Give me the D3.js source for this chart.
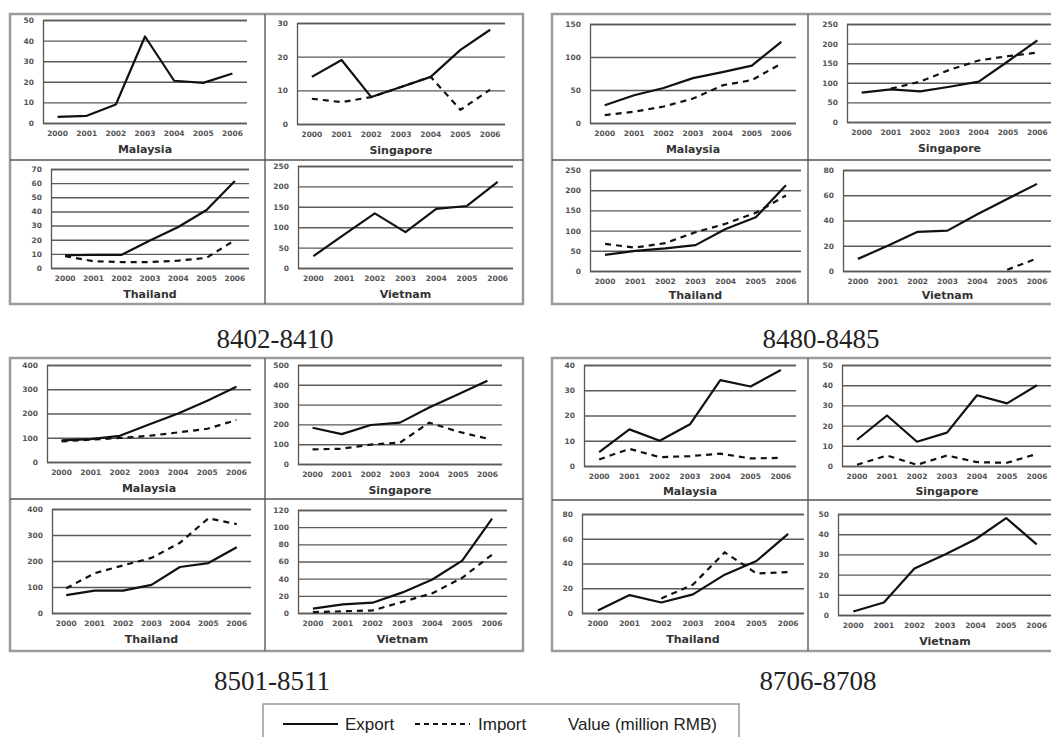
<!DOCTYPE html>
<html>
<head>
<meta charset="utf-8">
<script src="https://cdn.jsdelivr.net/npm/d3@7"></script>
<style>
  html, body { margin: 0; padding: 0; background: #fff; }
  svg { display: block; }
</style>
</head>
<body>
<script>
// ---------------- DATA ----------------
const years = ["2000", "2001", "2002", "2003", "2004", "2005", "2006"];
const countries = ["Malaysia", "Singapore", "Thailand", "Vietnam"];
const groupCodes = ["8402-8410", "8480-8485", "8501-8511", "8706-8708"];

// y-axis tick values per panel (Malaysia, Singapore, Thailand, Vietnam)
const ticks8402 = [[0,10,20,30,40,50], [0,10,20,30], [0,10,20,30,40,50,60,70], [0,50,100,150,200,250]];
const ticks8480 = [[0,50,100,150], [0,50,100,150,200,250], [0,50,100,150,200,250], [0,20,40,60,80]];
const ticks8501 = [[0,100,200,300,400], [0,100,200,300,400,500], [0,100,200,300,400], [0,20,40,60,80,100,120]];
const ticks8706 = [[0,10,20,30,40], [0,10,20,30,40,50], [0,20,40,60,80], [0,10,20,30,40,50]];

// Export values (million RMB), 2000-2006
const export8402 = [
  [3, 3.5, 9, 42, 20.5, 19.5, 24],
  [14, 19, 8, 11, 14, 22, 28],
  [9, 9.3, 9.3, 19.5, 29, 41, 61.5],
  [29, 82, 134, 88, 145, 152, 211]
];
const export8480 = [
  [27, 42, 53, 68, 77, 87, 123],
  [75, 83, 78, 90, 103, 155, 208],
  [40, 50, 56, 64, 104, 133, 212],
  [9.6, 20, 31, 32, 45, 57, 69]
];
const export8501 = [
  [89, 94, 108, 155, 200, 253, 310],
  [183, 151, 197, 209, 285, 352, 420],
  [69, 86, 86, 108, 177, 192, 253],
  [5, 10, 12, 24, 39, 61, 110]
];
const export8706 = [
  [5.5, 14.5, 10, 16.5, 34, 31.5, 38],
  [13, 25, 12, 16.5, 35, 31, 40],
  [2, 14.5, 8.5, 15, 31, 42, 64],
  [1.7, 6.2, 23, 30, 37.5, 48, 35]
];

// Import values (million RMB), 2000-2006 (null = not shown)
const import8402 = [
  null,
  [7.5, 6.5, 8, 11, 14, 4.2, 10.2],
  [8.4, 4.8, 4.2, 4.2, 5.2, 7.2, 19.7],
  null
];
const import8480 = [
  [12, 17, 25, 37, 57, 65, 90],
  [null, 85, 103, 133, 157, 168, 177],
  [67, 58, 69, 96, 117, 144, 187],
  [null, null, null, null, null, 1, 10]
];
const import8501 = [
  [85, 92, 99, 108, 122, 137, 173],
  [74, 77, 98, 108, 209, 163, 128],
  [95, 153, 183, 212, 270, 364, 342],
  [1, 2, 3, 13, 23, 41, 68]
];
const import8706 = [
  [2.6, 6.8, 3.5, 3.9, 4.9, 3.0, 3.2],
  [0.6, 5.2, 0.6, 5.2, 1.9, 1.6, 6],
  [null, null, 11.7, 23, 49, 32, 33],
  null
];

const allTicks = [ticks8402, ticks8480, ticks8501, ticks8706];
const allExport = [export8402, export8480, export8501, export8706];
const allImport = [import8402, import8480, import8501, import8706];

const legendLabels = ["Export", "Import", "Value (million RMB)"];

// ---------------- LAYOUT ----------------
// group frames: [x, y, w, h, colDividerX, rowDividerY]
const frames = [
  [10, 14, 513, 290, 265, 160],
  [552, 14, 520, 290, 808, 160],
  [10, 358, 513, 293, 265, 499],
  [552, 358, 520, 293, 808, 500]
];
// plot boxes [x0, x1, yTop, yBottom] per group, per country
const plots = [
  [[43, 247, 20, 123], [297, 505, 23, 124], [51, 249, 169, 268], [298, 513, 166, 268]],
  [[590, 796, 24, 123], [847, 1052, 24, 122], [590, 801, 170, 271], [843, 1052, 170, 271]],
  [[47, 251, 365, 462], [298, 502, 365, 464], [52, 251, 509, 613], [298, 507, 510, 613]],
  [[584, 796, 365, 466], [842, 1052, 365, 466], [582, 804, 514, 613], [838, 1052, 514, 615]]
];
const codePos = [[275, 348], [821, 348], [272, 690], [818, 690]];

// ---------------- DRAW ----------------
const svg = d3.select("body").append("svg")
  .attr("width", 1051).attr("height", 737)
  .style("background", "#fff");

frames.forEach(f => {
  const g = svg.append("g");
  g.append("rect").attr("x", f[0]).attr("y", f[1]).attr("width", f[2]).attr("height", f[3])
    .attr("fill", "#fff").attr("stroke", "#9a9a9a").attr("stroke-width", 2.5);
  g.append("line").attr("x1", f[4]).attr("x2", f[4]).attr("y1", f[1]).attr("y2", f[1] + f[3])
    .attr("stroke", "#666").attr("stroke-width", 1.5);
  g.append("line").attr("x1", f[0]).attr("x2", f[0] + f[2]).attr("y1", f[5]).attr("y2", f[5])
    .attr("stroke", "#555").attr("stroke-width", 1.5);
});

const tickFont = "'DejaVu Sans', sans-serif";

allTicks.forEach((groupTicks, gi) => {
  const f = frames[gi];
  groupTicks.forEach((ticks, pi) => {
    const L = plots[gi][pi];
    const x = d3.scaleBand().domain(years).range([L[0], L[1]]);
    const y = d3.scaleLinear().domain([0, d3.max(ticks)]).range([L[3], L[2]]);
    const g = svg.append("g");

    // y axis with gridlines
    const ya = g.append("g").attr("transform", `translate(${L[0]},0)`)
      .call(d3.axisLeft(y).tickValues(ticks).tickSize(-(L[1] - L[0])).tickPadding(9));
    ya.select(".domain").attr("stroke", "#555").attr("stroke-width", 1.3);
    ya.selectAll(".tick line").attr("stroke", "#5a5a5a").attr("stroke-width", 1.4);
    ya.selectAll(".tick text").attr("font-family", tickFont).attr("font-size", 7.5)
      .attr("font-weight", "bold").attr("fill", "#555");

    // x axis labels
    const xa = g.append("g").attr("transform", `translate(0,${L[3]})`)
      .call(d3.axisBottom(x).tickSize(0).tickPadding(8));
    xa.select(".domain").remove();
    xa.selectAll(".tick text").attr("font-family", tickFont).attr("font-size", 7.5)
      .attr("font-weight", "bold").attr("fill", "#555");

    // title
    const limit = (pi < 2 ? f[5] : f[1] + f[3]) - 5;
    g.append("text").attr("x", (L[0] + L[1]) / 2).attr("y", Math.min(L[3] + 30, limit))
      .attr("text-anchor", "middle").attr("font-family", tickFont)
      .attr("font-size", 11).attr("font-weight", "bold").attr("fill", "#333")
      .text(countries[pi]);

    const line = d3.line()
      .defined(d => d != null)
      .x((d, i) => x(years[i]) + x.bandwidth() / 2)
      .y(d => y(d));

    const imp = allImport[gi][pi];
    if (imp) {
      g.append("path").datum(imp).attr("d", line).attr("fill", "none")
        .attr("stroke", "#111").attr("stroke-width", 2.2).attr("stroke-dasharray", "6,5");
    }
    g.append("path").datum(allExport[gi][pi]).attr("d", line).attr("fill", "none")
      .attr("stroke", "#111").attr("stroke-width", 2.2).attr("stroke-linejoin", "round");
  });
});

// group codes
groupCodes.forEach((c, i) => {
  svg.append("text").attr("x", codePos[i][0]).attr("y", codePos[i][1])
    .attr("text-anchor", "middle").attr("font-family", "'Liberation Serif', serif")
    .attr("font-size", 27).attr("fill", "#222").text(c);
});

// legend
const lg = svg.append("g");
lg.append("rect").attr("x", 263).attr("y", 704).attr("width", 476).attr("height", 45)
  .attr("fill", "#fff").attr("stroke", "#999").attr("stroke-width", 1.5);
lg.append("line").attr("x1", 283).attr("x2", 338).attr("y1", 724).attr("y2", 724)
  .attr("stroke", "#111").attr("stroke-width", 2);
lg.append("text").attr("x", 345).attr("y", 730).attr("font-family", "'Liberation Sans', Arial, sans-serif")
  .attr("font-size", 17).attr("fill", "#222").text(legendLabels[0]);
lg.append("line").attr("x1", 415).attr("x2", 470).attr("y1", 724).attr("y2", 724)
  .attr("stroke", "#111").attr("stroke-width", 2).attr("stroke-dasharray", "5,4");
lg.append("text").attr("x", 478).attr("y", 730).attr("font-family", "'Liberation Sans', Arial, sans-serif")
  .attr("font-size", 17).attr("fill", "#222").text(legendLabels[1]);
lg.append("text").attr("x", 568).attr("y", 730).attr("font-family", "'Liberation Sans', Arial, sans-serif")
  .attr("font-size", 17).attr("fill", "#222").text(legendLabels[2]);
</script>
</body>
</html>
